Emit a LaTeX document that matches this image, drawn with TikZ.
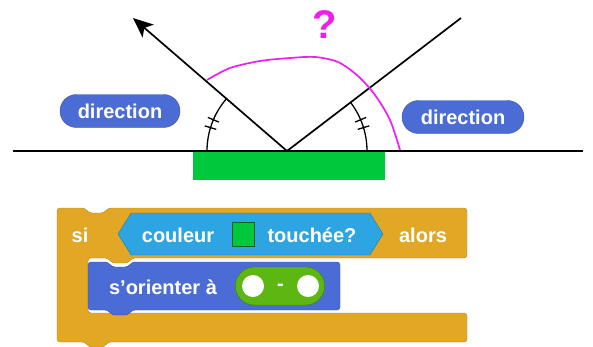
\documentclass[tikz,border=0pt]{standalone}
\usepackage{fontspec}
\setmainfont{Liberation Sans}
\usetikzlibrary{calc}
\usetikzlibrary{arrows.meta}
\usetikzlibrary{shapes.misc}
\usetikzlibrary{shapes.symbols}
\usetikzlibrary{positioning}
\definecolor{motionblue}{HTML}{4A6CD4}
\definecolor{controlgold}{HTML}{E2A825}
\definecolor{sensingblue}{HTML}{2CA5E2}
\definecolor{operatorgreen}{HTML}{5CB712}
\definecolor{touchgreen}{HTML}{00C83C}
\definecolor{anglemagenta}{HTML}{EE1EEE}
\tikzstyle{ray}=[line width=1.7pt]
\tikzstyle{anglemark}=[line width=1.3pt]
\tikzstyle{blocktext}=[text=white,inner sep=0pt,font=\bfseries\fontsize{20}{20}\selectfont]
\tikzstyle{reporter}=[rounded rectangle,fill=motionblue,draw=motionblue!75!black,minimum width=120pt,minimum height=33pt,blocktext]
\pgfmathsetmacro{\markradius}{80}
\newcommand{\drawticks}[1]{
  \foreach \a in {#1} {
    \draw[anglemark] ($(o)+(\a:\markradius-6)$) -- ($(o)+(\a:\markradius+6)$);
  }
}

\begin{document}
\begin{tikzpicture}[x=1pt,y=1pt]
  \useasboundingbox (0,0) rectangle (593,-346);
  % ground and green wall
  \coordinate (o) at (287,-151);
  \coordinate (groundleft) at (13,-151);
  \coordinate (groundright) at (583,-151);
  \node[fill=touchgreen,minimum width=192pt,minimum height=28pt,inner sep=0pt,anchor=north] (wall) at (289,-152) {};
  \draw[ray] (groundleft) -- (groundright);
  % incoming and outgoing rays
  \coordinate (rayin) at (461,-18);
  \coordinate (rayout) at (133,-18);
  \draw[ray] (rayin) -- (o);
  \draw[ray,-{Stealth[length=20pt,width=17pt,inset=5pt]}] (o) -- (rayout);
  % equal angles
  \draw[anglemark] ($(o)+(180:\markradius)$) arc[start angle=180,end angle=139,radius=\markradius];
  \draw[anglemark] ($(o)+(0:\markradius)$) arc[start angle=0,end angle=37,radius=\markradius];
  \drawticks{157,163}
  \drawticks{17,23}
  % unknown angle
  \draw[anglemagenta,line width=1.7pt] plot[smooth] coordinates {(207,-80) (230,-68) (260,-61) (290,-58) (315,-57) (338,-62) (358,-76) (375,-95) (390,-120) (400,-150)};
  \node[text=anglemagenta,font=\bfseries\fontsize{40}{40}\selectfont,inner sep=0pt] (question) at (325,-25) {?};
  \node[reporter] (dirleft) at (120,-111) {direction};
  \node[reporter,minimum width=122pt] (dirright) at (463,-117) {direction};
  % if block
  \draw[fill=controlgold,draw=controlgold!80!black,rounded corners=3pt] (57,-208) -- (85,-208) -- (89,-213) -- (104,-213) -- (108,-208) -- (467,-208) -- (467,-258) -- (132,-258) -- (128,-263) -- (112,-263) -- (108,-258) -- (88,-258) -- (88,-313) -- (467,-313) -- (467,-342) -- (108,-342) -- (104,-347) -- (89,-347) -- (85,-342) -- (57,-342) -- cycle;
  \node[signal,signal to=west and east,signal pointer angle=116,fill=sensingblue,draw=sensingblue!75!black,minimum width=265pt,minimum height=42pt,inner sep=0pt] (sensing) at (250.5,-234) {};
  \node[blocktext] (si) at (80,-235) {si};
  \node[blocktext] (alors) at (423,-235) {alors};
  \node[blocktext] (couleur) at (178,-235) {couleur};
  \node[fill=touchgreen,draw=touchgreen!50!black,minimum width=22pt,minimum height=24pt,inner sep=0pt] (swatch) at (243.5,-234.5) {};
  \node[blocktext] (touchee) at (312,-235) {touchée?};
  % point in direction block
  \draw[fill=motionblue,draw=motionblue!75!black,rounded corners=3pt] (88,-262) -- (108,-262) -- (112,-267) -- (128,-267) -- (132,-262) -- (340,-262) -- (340,-310) -- (132,-310) -- (128,-315) -- (112,-315) -- (108,-310) -- (88,-310) -- cycle;
  \node[blocktext] (orienter) at (163,-287) {s\symbol{"27}orienter à};
  \node[rounded rectangle,fill=operatorgreen,draw=operatorgreen!70!black,minimum width=96pt,minimum height=38pt] (minus) at (280,-286) {};
  \node[circle,fill=white,minimum size=22pt,inner sep=0pt] (argleft) at (253,-286) {};
  \node[circle,fill=white,minimum size=22pt,inner sep=0pt] (argright) at (308,-286) {};
  \node[blocktext] (minussign) at (280.5,-287) {-};
\end{tikzpicture}
\end{document}
